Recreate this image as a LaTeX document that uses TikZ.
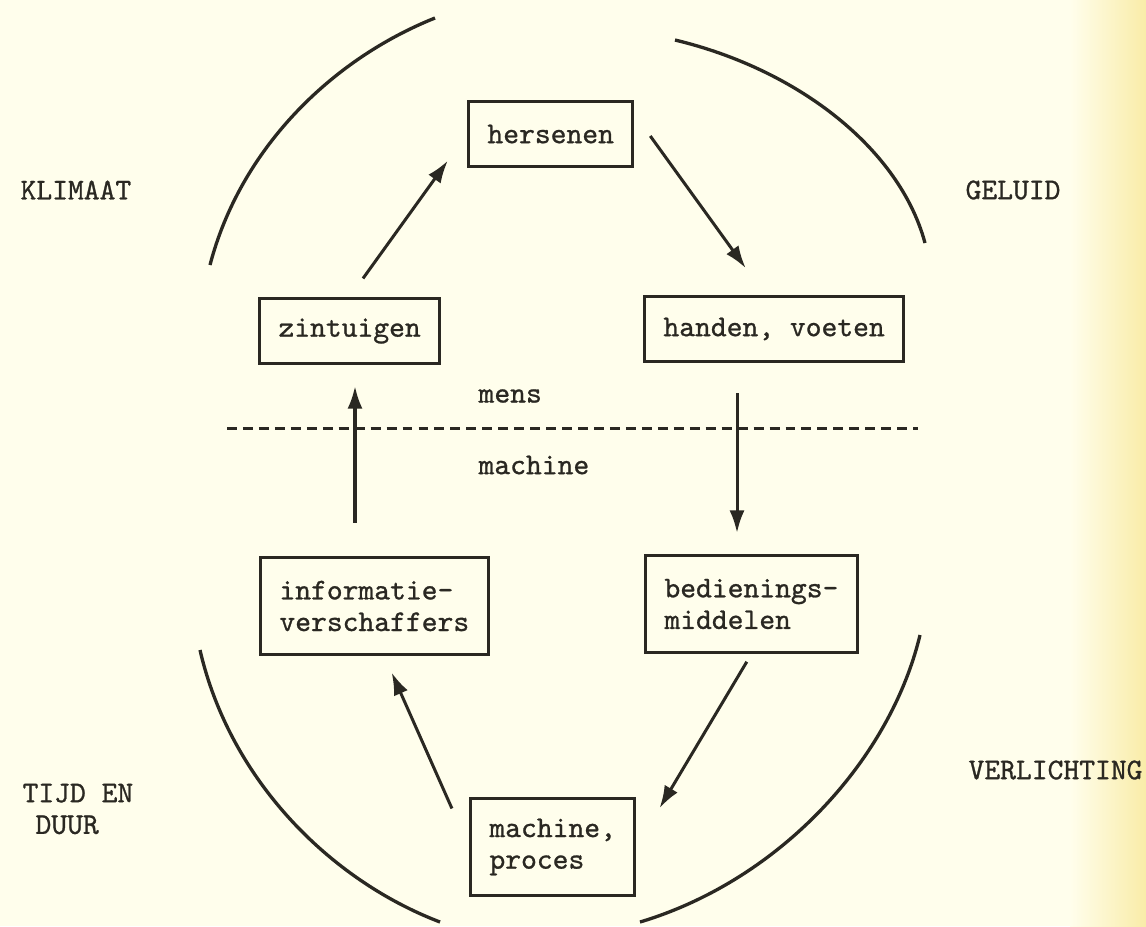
\documentclass[tikz,border=0pt]{standalone}
\usepackage{tikz}
\usepackage{xcolor}
\usepackage{fontspec}
\newfontfamily\typerfont{lmmono10-regular.otf}[FakeBold=0.9]
\usetikzlibrary{arrows.meta, positioning}
\definecolor{paper}{RGB}{255,254,236}
\definecolor{paperedge}{RGB}{249,236,168}
\definecolor{ink}{RGB}{42,40,34}

\begin{document}
\begin{tikzpicture}[x=0.01168cm, y=-0.01168cm,
    font=\typerfont\fontsize{10}{10.5}\selectfont,
    box/.style={rectangle, draw=ink, line width=1pt, anchor=north west, inner xsep=6.3pt, minimum height=21.6pt, align=left, text=ink},
    twoline/.style={minimum height=32.2pt},
    word/.style={anchor=west, text=ink, inner sep=0pt},
    arr/.style={-{Latex[length=7.5pt,width=5pt]}, line width=1pt, draw=ink},
    rim/.style={line width=1.1pt, draw=ink}]
            % paper
            \fill[paper] (0,0) rectangle (1146,926);
            \shade[left color=paper, right color=paperedge] (1070,0) rectangle (1146,926);
            \useasboundingbox (0,0) rectangle (1146,926);

            % the loop
            \node[box] (hersenen) at (467,100) {hersenen};
            \node[box] (zintuigen) at (258,297) {zintuigen};
            \node[box] (handen) at (643,295) {handen, voeten};
            \node[box, twoline] (informatie) at (259,556) {informatie-\\verschaffers};
            \node[box, twoline] (bediening) at (644,554) {bedienings-\\middelen};
            \node[box, twoline] (machine) at (469,797) {machine,\\proces};

            % surroundings
            \node[word] (klimaat) at (20,190) {KLIMAAT};
            \node[word] (geluid) at (965,190) {GELUID};
            \node[word, align=left] (tijd) at (22,809) {TIJD EN\\\hspace*{4.3pt}DUUR};
            \node[word] (verlichting) at (968,770) {VERLICHTING};
            \node[word] (mens) at (478,396) {mens};
            \node[word] (machinetxt) at (478,465) {machine};

            \draw[ink, line width=1pt, dash pattern=on 3.3pt off 2pt] (227,428) -- (918,428);

            \draw[rim] (210,265) .. controls (240,150) and (330,60) .. (435,18);
            \draw[rim] (675,40) .. controls (800,70) and (900,150) .. (925,243);
            \draw[rim] (200,650) .. controls (230,780) and (330,880) .. (440,922);
            \draw[rim] (920,635) .. controls (890,760) and (780,880) .. (640,922);

            \draw[arr, shorten <=7.6pt, shorten >=10.9pt] (zintuigen.north) -- (hersenen.west);
            \draw[arr, shorten <=9pt, shorten >=11pt] ([shift={(0,-20)}]hersenen.east) -- ([shift={(-9,0)}]handen.north);
            \draw[arr, shorten <=10pt, shorten >=7pt] ([shift={(94,0)}]handen.south west) -- ([shift={(93,0)}]bediening.north west);
            \draw[arr, shorten <=3pt, shorten >=15pt] (bediening.south) -- (machine.east);
            \draw[arr, shorten <=14pt, shorten >=6pt] (machine.west) -- ([shift={(10,0)}]informatie.south);
            \draw[arr, shorten <=11pt, shorten >=7pt] ([shift={(96,0)}]informatie.north west) -- ([shift={(97,0)}]zintuigen.south west);
        \end{tikzpicture}
\end{document}
